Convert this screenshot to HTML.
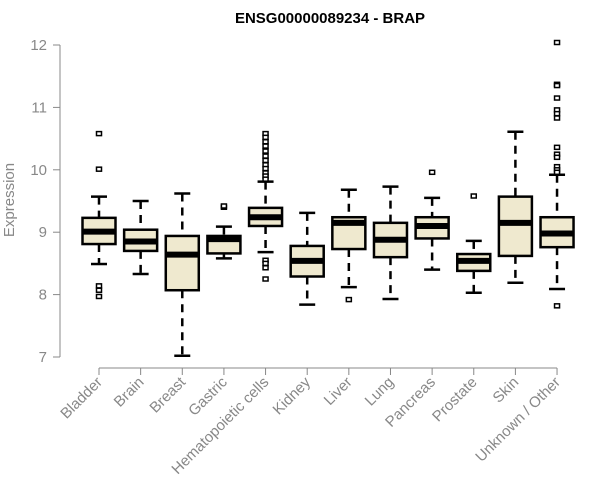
<!DOCTYPE html>
<html><head><meta charset="utf-8"><style>
body{margin:0;background:#fff;}
svg{display:block;font-family:"Liberation Sans",Arial,sans-serif;}
</style></head><body>
<svg id="chart" width="600" height="500">
<text x="330" y="23" text-anchor="middle" font-size="15" font-weight="bold" fill="#000">ENSG00000089234 - BRAP</text>
<text transform="translate(14,200) rotate(-90)" text-anchor="middle" font-size="15" fill="#888">Expression</text>
<g id="yaxis"></g>
<g id="xaxis"></g>
<g id="boxes"></g>
</svg>
<script>
const categories=["Bladder","Brain","Breast","Gastric","Hematopoietic cells","Kidney","Liver","Lung","Pancreas","Prostate","Skin","Unknown / Other"];
const whiskerLow=[8.49,8.33,7.02,8.58,8.68,7.84,8.12,7.93,8.40,8.03,8.19,8.09];
const q1=[8.81,8.70,8.07,8.66,9.10,8.29,8.73,8.60,8.90,8.38,8.62,8.76];
const medians=[9.01,8.85,8.64,8.89,9.24,8.54,9.15,8.88,9.10,8.54,9.15,8.98];
const q3=[9.23,9.04,8.94,8.94,9.39,8.78,9.24,9.15,9.24,8.65,9.57,9.24];
const whiskerHigh=[9.57,9.50,9.62,9.09,9.81,9.31,9.68,9.73,9.55,8.86,10.61,9.92];
const outliers=[[10.58,10.01,8.14,8.07,7.97],[],[],[9.40,9.42],
[10.58,10.52,10.45,10.38,10.30,10.22,10.15,10.08,10.02,9.95,9.90,9.85,8.55,8.43,8.25,8.50],
[],[7.92],[],[9.96],[9.58],[],[12.04,11.37,11.35,11.15,10.96,10.90,10.83,10.36,10.25,10.20,10.05,10.00,9.96,7.82]];
const yTicks=[7,8,9,10,11,12];
const NS="http://www.w3.org/2000/svg";
const y=v=>357-(v-7)*62.4;
const x=i=>99+i*41.64;
function mk(tag,attrs,parent){const e=document.createElementNS(NS,tag);for(const k in attrs)e.setAttribute(k,attrs[k]);parent.appendChild(e);return e;}
const ya=document.getElementById('yaxis'),xa=document.getElementById('xaxis'),bx=document.getElementById('boxes');
mk('line',{x1:60,x2:60,y1:y(12),y2:y(7),stroke:'#888'},ya);
yTicks.forEach(t=>{
  mk('line',{x1:53,x2:60,y1:y(t),y2:y(t),stroke:'#888'},ya);
  const tx=mk('text',{x:47,y:y(t)+5,'text-anchor':'end','font-size':15,fill:'#888'},ya);
  tx.textContent=t;
  
  
});
mk('line',{x1:x(0),x2:x(categories.length-1),y1:368,y2:368,stroke:'#888'},xa);
categories.forEach((c,i)=>{
  mk('line',{x1:x(i),x2:x(i),y1:368,y2:375,stroke:'#888'},xa);
  const tx=mk('text',{transform:`translate(${x(i)+4},${383}) rotate(-45)`,'text-anchor':'end','font-size':15,fill:'#888'},xa);
  tx.textContent=c;
  
  
  const g=mk('g',{},bx);
  
  
  const cx=x(i),hw=16.5;
  mk('line',{x1:cx,x2:cx,y1:y(whiskerHigh[i]),y2:y(q3[i]),stroke:'#000','stroke-width':2.5,'stroke-dasharray':'8,6'},g);
  mk('line',{x1:cx,x2:cx,y1:y(q1[i]),y2:y(whiskerLow[i]),stroke:'#000','stroke-width':2.5,'stroke-dasharray':'8,6'},g);
  mk('line',{x1:cx-8,x2:cx+8,y1:y(whiskerHigh[i]),y2:y(whiskerHigh[i]),stroke:'#000','stroke-width':2.5},g);
  mk('line',{x1:cx-8,x2:cx+8,y1:y(whiskerLow[i]),y2:y(whiskerLow[i]),stroke:'#000','stroke-width':2.5},g);
  mk('rect',{x:cx-hw,y:y(q3[i]),width:hw*2,height:y(q1[i])-y(q3[i]),fill:'#efe9cf',stroke:'#000','stroke-width':2.5},g);
  mk('line',{x1:cx-hw,x2:cx+hw,y1:y(medians[i]),y2:y(medians[i]),stroke:'#000','stroke-width':6},g);
  outliers[i].forEach(o=>{
    const r=mk('rect',{x:cx-2.5,y:y(o)-2,width:5,height:4,fill:'#fff',stroke:'#000','stroke-width':1.5},g);
    
    
  });
});
</script>
</body></html>
